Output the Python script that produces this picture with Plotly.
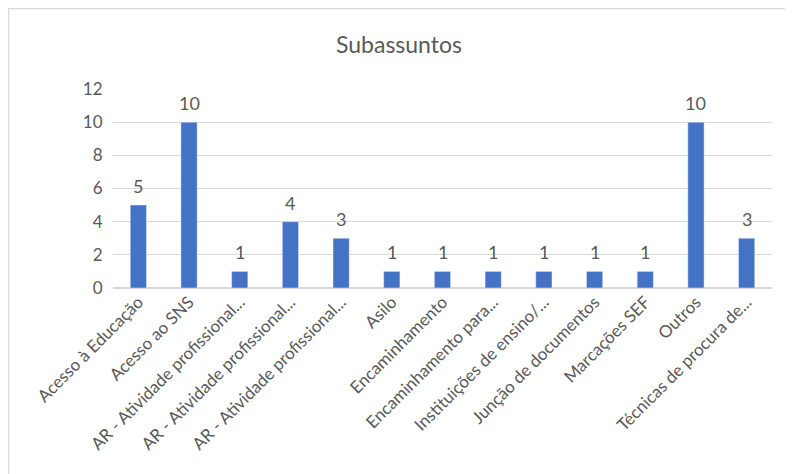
import plotly.graph_objects as go

categories = [
    "Acesso à Educação",
    "Acesso ao SNS",
    "AR - Atividade profissional...",
    "AR - Atividade profissional...",
    "AR - Atividade profissional...",
    "Asilo",
    "Encaminhamento",
    "Encaminhamento para...",
    "Instituições de ensino/...",
    "Junção de documentos",
    "Marcações SEF",
    "Outros",
    "Técnicas de procura de...",
]
values = [5, 10, 1, 4, 3, 1, 1, 1, 1, 1, 1, 10, 3]
y_ticks = [0, 2, 4, 6, 8, 10, 12]

positions = list(range(len(categories)))
FONT = "Lato"
GRAY = "#595959"

W, H = 782, 466
L, R, T, B = 105, 18, 81, 186
PW, PH = W - L - R, H - T - B

fig = go.Figure(
    go.Bar(
        x=positions,
        y=values,
        marker_color="#4472c4",
        cliponaxis=False,
    )
)

for p, v in zip(positions, values):
    fig.add_annotation(
        x=p,
        y=v,
        text=str(v),
        showarrow=False,
        yanchor="bottom",
        yshift=6,
        font=dict(family=FONT, size=18, color=GRAY),
    )

fig.update_layout(
    width=W,
    height=H,
    paper_bgcolor="white",
    plot_bgcolor="white",
    margin=dict(l=L, r=R, t=T, b=B, autoexpand=False),
    bargap=0.68,
    showlegend=False,
    title=dict(
        text="Subassuntos",
        x=0.5,
        xref="container",
        xanchor="center",
        y=1 - 37 / H,
        yanchor="middle",
        font=dict(family=FONT, size=23, color=GRAY),
    ),
    xaxis=dict(
        tickmode="array",
        tickvals=positions,
        ticktext=categories,
        tickangle=-45,
        tickfont=dict(family=FONT, size=17, color=GRAY),
        showgrid=False,
        showline=False,
        ticks="",
        automargin=False,
        range=[-0.5, len(categories) - 0.5],
    ),
    yaxis=dict(
        range=[0, 12],
        tickmode="array",
        tickvals=y_ticks,
        tickfont=dict(family=FONT, size=17, color=GRAY),
        gridcolor="#d9d9d9",
        zeroline=True,
        zerolinecolor="#d9d9d9",
        showline=False,
        ticks="outside",
        ticklen=6,
        tickcolor="white",
        automargin=False,
    ),
    shapes=[
        dict(
            type="rect",
            xref="paper",
            yref="paper",
            x0=-(L - 0.5) / PW,
            x1=1 + (R - 1) / PW,
            y0=-(B + 5) / PH,
            y1=1 + (T - 0.5) / PH,
            line=dict(color="#d9d9d9", width=1.5),
            fillcolor="rgba(0,0,0,0)",
            layer="below",
        )
    ],
)

fig.write_html("out.html")
